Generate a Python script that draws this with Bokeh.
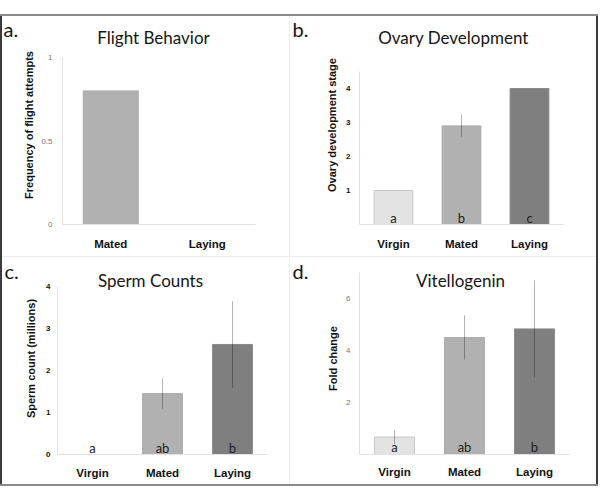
from bokeh.plotting import figure
from bokeh.models import Range1d, FixedTicker, ColumnDataSource, Spacer, LinearAxis
from bokeh.layouts import row, column
from bokeh.core.properties import value
from bokeh.embed import file_html
from bokeh.resources import INLINE

# ---------------- data ----------------
flight_cats = ["Mated", "Laying"]
flight_vals = [0.80, 0.0]
flight_err = [0.0, 0.0]
flight_letters = ["", ""]
flight_ticks = [0, 0.5, 1]
flight_tick_labels = ["0", "0.5", "1"]

ovary_cats = ["Virgin", "Mated", "Laying"]
ovary_vals = [1.0, 2.9, 4.0]
ovary_err = [0.0, 0.33, 0.0]
ovary_letters = ["a", "b", "c"]
ovary_ticks = [1, 2, 3, 4]

sperm_cats = ["Virgin", "Mated", "Laying"]
sperm_vals = [0.0, 1.45, 2.62]
sperm_err = [0.0, 0.36, 1.03]
sperm_letters = ["a", "ab", "b"]
sperm_ticks = [0, 1, 2, 3, 4]

vit_cats = ["Virgin", "Mated", "Laying"]
vit_vals = [0.67, 4.5, 4.83]
vit_err = [0.28, 0.85, 1.87]
vit_letters = ["a", "ab", "b"]
vit_ticks = [2, 4, 6]

fill_colors = {"Virgin": "#e3e3e3", "Mated": "#b1b1b1", "Laying": "#7f7f7f"}
edge_colors = {"Virgin": "#c6c6c6", "Mated": "#acacac", "Laying": "#8a8a8a"}

AX_FONT = "Liberation Sans"
TXT_FONT = "Lato"


def text_axis(p, side, range_name, pos, text, size, standoff):
    kw = {"x_range_name": range_name} if side == "above" else {"y_range_name": range_name}
    ax = LinearAxis(ticker=FixedTicker(ticks=[pos], minor_ticks=[]),
                    bounds=(pos - 0.5, pos + 0.5),
                    major_label_overrides={pos: text}, **kw)
    ax.axis_line_color = None
    ax.major_tick_line_color = None
    ax.minor_tick_line_color = None
    ax.major_tick_out = 0
    ax.minor_tick_out = 0
    ax.major_label_standoff = standoff
    ax.major_label_text_font = TXT_FONT
    ax.major_label_text_font_size = size
    ax.major_label_text_color = "#151515"
    p.add_layout(ax, side)


def make_panel(cats, vals, errs, letters, ticks, tick_labels, unit_px, ybound,
               geom, ylabel, title, title_pos, letter, letter_pos,
               tick_bold, letter_dy, xl_standoff, yl_standoff, tk_standoff):
    ox, oy, w, h, fl, fr, ft, fb = geom
    xs = [i + 0.5 for i in range(len(cats))]
    ymax = (fb - ft) / unit_px
    p = figure(width=w, height=h, x_range=Range1d(0, len(cats)),
               y_range=Range1d(0, ymax),
               min_border_left=fl - ox, min_border_right=ox + w - fr,
               min_border_top=ft - oy, min_border_bottom=oy + h - fb,
               output_backend="svg", toolbar_location=None, tools="")
    p.outline_line_color = None
    p.xgrid.grid_line_color = None
    p.ygrid.grid_line_color = None
    p.background_fill_color = "white"
    p.border_fill_color = "white"

    src = ColumnDataSource(dict(
        x=xs, top=vals,
        fill=[fill_colors[c] for c in cats],
        edge=[edge_colors[c] for c in cats],
        la=[0.0 if v == 0 else 1.0 for v in vals],
    ))
    p.vbar(x="x", top="top", bottom=0, width=0.57, source=src,
           fill_color="fill", line_color="edge", line_alpha="la", line_width=1)

    ex = [x for x, e in zip(xs, errs) if e > 0]
    e0 = [v - e for v, e in zip(vals, errs) if e > 0]
    e1 = [v + e for v, e in zip(vals, errs) if e > 0]
    if ex:
        p.segment(x0=ex, x1=ex, y0=e0, y1=e1, line_color="black",
                  line_alpha=0.3, line_width=1)

    p.text(x=xs, y=[0] * len(cats), text=letters, text_align="center",
           text_baseline="bottom", y_offset=letter_dy,
           text_font=value(TXT_FONT), text_font_size="13px", text_color="#222222")

    # main axes
    for ax in (p.xaxis[0], p.yaxis[0]):
        ax.axis_line_color = "#e2e2e2"
        ax.axis_line_width = 1
        ax.major_tick_line_color = None
        ax.minor_tick_line_color = None
        ax.major_tick_out = 0
        ax.minor_tick_out = 0
    p.xaxis.ticker = FixedTicker(ticks=xs, minor_ticks=[])
    p.xaxis.major_label_overrides = {x: c for x, c in zip(xs, cats)}
    p.xaxis.major_label_text_font = AX_FONT
    p.xaxis.major_label_text_font_style = "bold"
    p.xaxis.major_label_text_font_size = "11.5px"
    p.xaxis.major_label_text_color = "#111111"
    p.xaxis.major_label_standoff = xl_standoff

    p.yaxis.ticker = FixedTicker(ticks=ticks, minor_ticks=[])
    p.yaxis.bounds = (0, ybound)
    if tick_labels is not None:
        p.yaxis.major_label_overrides = {t: s for t, s in zip(ticks, tick_labels)}
    p.yaxis.major_label_text_font = AX_FONT
    p.yaxis.major_label_text_font_size = "8px"
    if tick_bold:
        p.yaxis.major_label_text_font_style = "bold"
        p.yaxis.major_label_text_color = "#111111"
    else:
        p.yaxis.major_label_text_color = "#777777"
    p.yaxis.major_label_standoff = tk_standoff
    p.yaxis.axis_label = ylabel
    p.yaxis.axis_label_text_font = AX_FONT
    p.yaxis.axis_label_text_font_style = "bold"
    p.yaxis.axis_label_text_font_size = "11px"
    p.yaxis.axis_label_text_color = "#111111"
    p.yaxis.axis_label_standoff = yl_standoff

    # page-pixel helper ranges, used only to place the panel title and letter
    p.extra_x_ranges = {"px": Range1d(fl, fr)}
    p.extra_y_ranges = {"py": Range1d(fb, ft)}
    # title: centred at title_pos[0], baseline at title_pos[1]
    t_bottom = title_pos[1] + 3.5
    text_axis(p, "above", "px", title_pos[0], title, "17px", int(round(ft - t_bottom)))
    # letter: left edge at letter_pos[0], baseline at letter_pos[1]
    l_mid = letter_pos[1] - 7
    text_axis(p, "right", "py", l_mid, letter, "20px", int(round(letter_pos[0] - fr)))
    return p


DARK = "#3a3a3a"
MID = "#8a8a8a"
FAINT = "#ececec"


def strip(w, h, color=None):
    if color is None:
        return Spacer(width=w, height=h)
    return Spacer(width=w, height=h, styles={"background-color": color})


TOP_FT, TOP_FB = 25, 224
BOT_FT, BOT_FB = 262, 454

pa = make_panel(flight_cats, flight_vals, flight_err, flight_letters, flight_ticks,
                flight_tick_labels, 167.0, 1.0,
                (2, 16, 287, 240, 62, 255, TOP_FT, TOP_FB),
                "Frequency of flight attempts", "Flight Behavior", (153, 44), "a.", (3, 35),
                False, 0, 13, 3, 10)

pb = make_panel(ovary_cats, ovary_vals, ovary_err, ovary_letters, ovary_ticks,
                None, 34.0, 4.5,
                (290, 16, 306, 240, 359, 563, TOP_FT, TOP_FB),
                "Ovary development stage", "Ovary Development", (453, 44), "b.", (292, 35),
                True, 1, 13, 5, 9)

pc = make_panel(sperm_cats, sperm_vals, sperm_err, sperm_letters, sperm_ticks,
                None, 42.0, 4.0,
                (2, 257, 287, 227, 57, 267, BOT_FT, BOT_FB),
                "Sperm count (millions)", "Sperm Counts", (150, 287), "c.", (4, 275),
                True, 1, 12, 6, 7)

pd_ = make_panel(vit_cats, vit_vals, vit_err, vit_letters, vit_ticks,
                 None, 26.0, 7.0,
                 (290, 257, 306, 227, 359, 569, BOT_FT, BOT_FB),
                 "Fold change", "Vitellogenin", (460, 287), "d.", (292, 277),
                 False, 0, 11, 4, 9)

top_line = row(strip(598, 2, MID), strip(2, 2), spacing=0)
top_row = row(strip(2, 240, DARK), pa, strip(1, 240, FAINT), pb, strip(2, 240, DARK),
              strip(2, 240), spacing=0)
mid_row = row(strip(2, 1, DARK), strip(594, 1, FAINT), strip(2, 1, DARK), strip(2, 1),
              spacing=0)
bot_row = row(strip(2, 227, DARK), pc, strip(1, 227, FAINT), pd_, strip(2, 227, DARK),
              strip(2, 227), spacing=0)
bot_line = row(strip(598, 2, MID), strip(2, 2), spacing=0)

layout = column(strip(600, 14), top_line, top_row, mid_row, bot_row,
                bot_line, strip(600, 7), spacing=0)

open("out.html", "w").write(file_html(layout, INLINE))
